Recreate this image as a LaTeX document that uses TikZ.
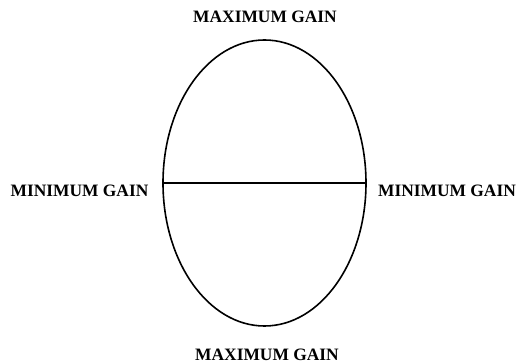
\documentclass[tikz,border=0pt]{standalone}
\usepackage{fontspec}
\setmainfont{Liberation Serif}
\usetikzlibrary{shapes.geometric}
\begin{document}
\begin{tikzpicture}[x=1pt, y=-1pt,
  gainlabel/.style={font=\fontsize{17.4}{20}\selectfont\bfseries, inner sep=0pt}]
  \useasboundingbox (0,0) rectangle (520,363);

  % Egg-shaped pattern
  \node[draw, ellipse, line width=1.6pt, minimum width=203pt, minimum height=286pt, inner sep=0pt] (egg) at (264.5,183) {};
  \draw[line width=1.6pt] (egg.west) -- (egg.east);

  % Labels
  \node[gainlabel] (maxtop) at (265,17) {MAXIMUM GAIN};
  \node[gainlabel] (maxbot) at (267,355) {MAXIMUM GAIN};
  \node[gainlabel] (minleft) at (79.5,191) {MINIMUM GAIN};
  \node[gainlabel] (minright) at (447,191) {MINIMUM GAIN};
\end{tikzpicture}
\end{document}
